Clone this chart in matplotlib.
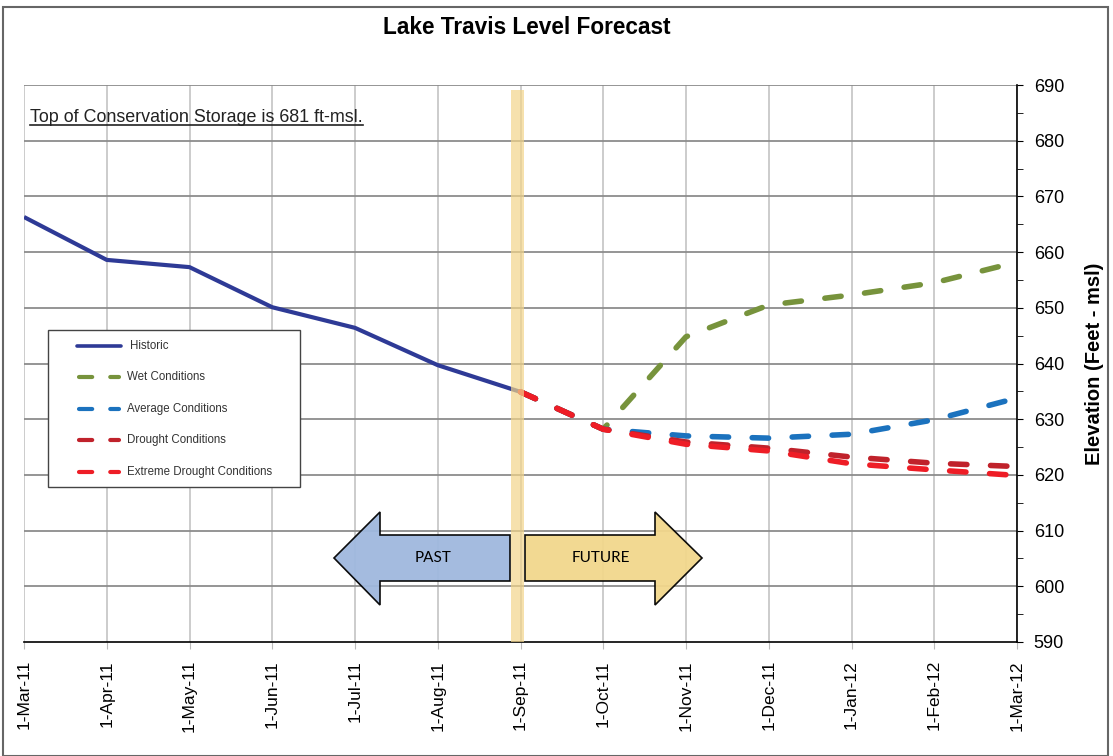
import numpy as np
import matplotlib
matplotlib.use('Agg')
import matplotlib.pyplot as plt
from matplotlib.patches import Rectangle, Polygon
from matplotlib.lines import Line2D

plt.rcParams['font.family'] = ['Liberation Sans', 'DejaVu Sans']
plt.rcParams['lines.scale_dashes'] = False

# -----------------------------
# Data
# -----------------------------
months = ["1-Mar-11", "1-Apr-11", "1-May-11", "1-Jun-11", "1-Jul-11", "1-Aug-11",
          "1-Sep-11", "1-Oct-11", "1-Nov-11", "1-Dec-11", "1-Jan-12", "1-Feb-12",
          "1-Mar-12"]
x_hist = np.arange(0, 7)
historic = [666.3, 658.6, 657.3, 650.1, 646.4, 639.7, 634.9]

x_fc = np.arange(6, 13)
wet = [634.9, 628.2, 644.8, 650.5, 652.3, 654.5, 658.2]
average = [634.9, 628.2, 627.0, 626.6, 627.3, 629.9, 633.8]
drought = [634.9, 628.2, 625.9, 624.8, 623.2, 622.1, 621.5]
extreme = [634.9, 628.2, 625.5, 624.3, 622.0, 620.9, 619.9]

labels = ["Historic", "Wet Conditions", "Average Conditions",
          "Drought Conditions", "Extreme Drought Conditions"]
colors = ["#2E3A96", "#77933C", "#1B72BE", "#C0222B", "#EE1D26"]

# -----------------------------
# Figure
# -----------------------------
fig = plt.figure(figsize=(11.13, 7.56), dpi=100)
ax = fig.add_axes([24 / 1113, 114 / 756, 993 / 1113, 557 / 756])

# outer frame
fig.patches.append(Rectangle((3 / 1113, 0.0), 1105 / 1113, 749 / 756,
                             transform=fig.transFigure, fill=False,
                             edgecolor="#666666", linewidth=1.5))

ax.set_xlim(0, 12)
ax.set_ylim(590, 690)
ax.set_xticks(np.arange(13))
ax.set_xticklabels(months, rotation=90, fontsize=12.5)
ax.set_yticks(np.arange(590, 691, 10))
ax.set_yticks(np.arange(595, 690, 10), minor=True)
ax.yaxis.tick_right()
ax.yaxis.set_label_position("right")
ax.tick_params(axis='y', which='both', direction='out', length=4, labelsize=13,
               pad=8)
ax.tick_params(axis='x', direction='out', length=5, color="#bbbbbb", pad=8)

for s in ["left", "top"]:
    ax.spines[s].set_visible(False)
ax.spines["bottom"].set_linewidth(1.2)
ax.spines["right"].set_linewidth(1.2)

# grid
for v in range(13):
    ax.axvline(v, color="#c8c8c8", linewidth=1.3, zorder=0)
for h in range(600, 691, 10):
    ax.axhline(h, color="#8c8c8c", linewidth=1.3, zorder=0)

ax.set_ylabel("Elevation (Feet - msl)", fontsize=14.5, fontweight="bold",
              labelpad=15)
fig.text(527 / 1113, 1 - 28 / 756, "Lake Travis Level Forecast",
         fontsize=16.3, fontweight="bold", ha="center", va="center")

# -----------------------------
# Lines
# -----------------------------
dash = (0, (11.8, 17))
ax.plot(x_hist, historic, color=colors[0], linewidth=3, zorder=3,
        solid_capstyle="butt")
series = [wet, average, drought, extreme]
for vals, c in zip(series, colors[1:]):
    ax.plot(x_fc, vals, color=c, linewidth=4, linestyle=dash,
            dash_capstyle="round", zorder=3)

# Sep-11 marker band
ax.axvspan(5.885, 6.045, ymin=0, ymax=0.991, color="#F3D58A", alpha=0.7,
           zorder=4, linewidth=0)

# -----------------------------
# PAST / FUTURE arrows
# -----------------------------
def px(xp, yp):
    return ((xp - 24) / 993, (642 - yp) / 557)

past = [px(334, 558), px(380, 512), px(380, 535), px(510, 535),
        px(510, 581), px(380, 581), px(380, 605)]
future = [px(525, 535), px(655, 535), px(655, 512), px(702, 558),
          px(655, 605), px(655, 581), px(525, 581)]
ax.add_patch(Polygon(past, closed=True, transform=ax.transAxes,
                     facecolor="#9FB8DE", edgecolor="black", linewidth=1.2,
                     alpha=0.95, zorder=2))
ax.add_patch(Polygon(future, closed=True, transform=ax.transAxes,
                     facecolor="#F2D78C", edgecolor="black", linewidth=1.2,
                     alpha=0.95, zorder=2))
ax.text(*px(433, 558), "PAST", transform=ax.transAxes, ha="center",
        va="center", fontsize=11, family=["Lato", "DejaVu Sans"], zorder=5)
ax.text(*px(601, 558), "FUTURE", transform=ax.transAxes, ha="center",
        va="center", fontsize=11, family=["Lato", "DejaVu Sans"], zorder=5)

# -----------------------------
# Legend (drawn by hand)
# -----------------------------
x0, y0 = px(48, 487)
x1, y1 = px(300, 330)
ax.add_patch(Rectangle((x0, y0), x1 - x0, y1 - y0, transform=ax.transAxes,
                       facecolor="white", edgecolor="#444444", linewidth=1,
                       zorder=6))
rows = [346, 377, 409, 440, 472]
for i, (lab, c) in enumerate(zip(labels, colors)):
    ya = px(0, rows[i])[1]
    if i == 0:
        ln = Line2D([px(77, 0)[0], px(121, 0)[0]], [ya, ya], color=c,
                    linewidth=2.6, transform=ax.transAxes, zorder=7,
                    solid_capstyle="round")
        tx = 130
    else:
        ln = Line2D([px(79, 0)[0], px(119, 0)[0]], [ya, ya], color=c,
                    linewidth=3, transform=ax.transAxes, zorder=7,
                    linestyle=(0, (9.5, 13)), dash_capstyle="round")
        tx = 127
    ax.add_line(ln)
    ax.text(px(tx, 0)[0], ya, lab, transform=ax.transAxes, fontsize=8.3,
            va="center", ha="left", color="#333333", zorder=7)

# -----------------------------
# Annotation with underline
# -----------------------------
note = ax.text(*px(30, 118), "Top of Conservation Storage is 681 ft-msl.",
               transform=ax.transAxes, fontsize=12.9, va="center", ha="left",
               color="#222222", zorder=5)
fig.canvas.draw()
bb = note.get_window_extent()
uy = bb.y0 + 1.5
fig.add_artist(Line2D([bb.x0, bb.x1], [uy, uy], color="#222222",
                      linewidth=1.2, transform=None))

fig.savefig("out.png", dpi=100)
